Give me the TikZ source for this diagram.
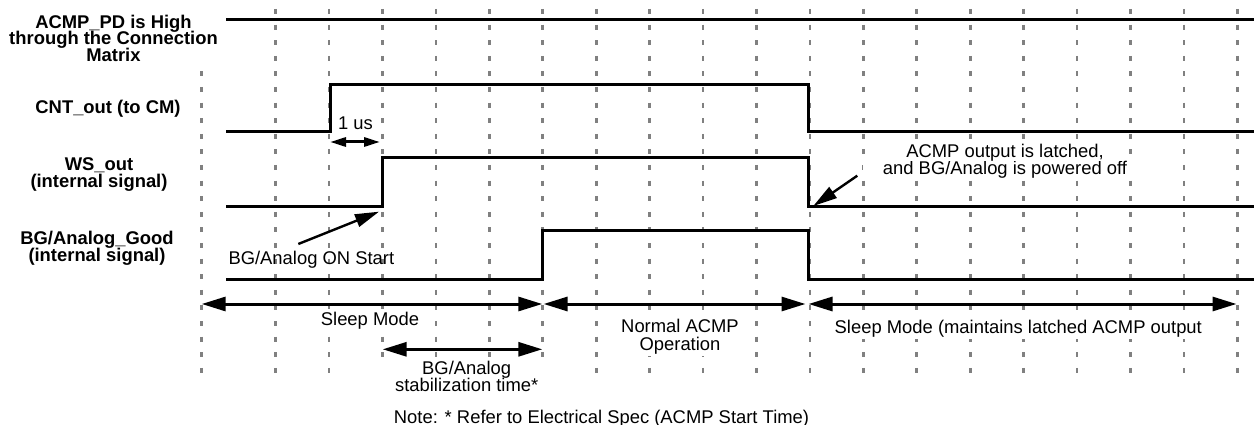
\documentclass[tikz,border=0pt]{standalone}
\usepackage{fontspec}
\setmainfont{Liberation Sans}
\usetikzlibrary{arrows.meta}
\definecolor{gridgray}{RGB}{128,128,128}
\begin{document}
\begin{tikzpicture}[x=1pt,y=-1pt,
  gridline/.style={draw=gridgray, line width=2.7pt, dash pattern=on 5pt off 10.6pt},
  sig/.style={line width=3pt, line join=miter},
  lbl/.style={font=\fontsize{18.4}{20}\selectfont\bfseries, inner sep=0pt, anchor=base},
  txt/.style={font=\fontsize{18.4}{20}\selectfont, inner sep=0pt, anchor=base},
  wtxt/.style={txt, fill=white, inner xsep=5pt, inner ysep=2.5pt},
  ltxt/.style={txt, fill=white, inner xsep=20pt, inner ysep=0.3pt},
  bigarrow/.style={line width=3pt, {Triangle[length=24pt,width=14pt]}-{Triangle[length=24pt,width=14pt]}},
  smallarrow/.style={line width=3pt, {Triangle[length=16pt,width=9pt]}-{Triangle[length=16pt,width=9pt]}},
  pointer/.style={line width=2.4pt, -{Triangle[length=24pt,width=13pt]}}]
\useasboundingbox (0,0) rectangle (1254,425);

% grid of dashed lines
\draw[gridline] (201.7,71.4) -- (201.7,372.8);
\foreach \k in {0,1,6,7,8,9,10,11,12,13,14,15,16,17,18}
  \draw[gridline] ({275.7+53.42*\k},9) -- ++(0,363.8);
\foreach \k in {2,3,4,5}
  \draw[gridline] ({275.7+53.42*\k},9) -- ++(0,348.2);

% signal labels
\node[lbl] (l1a) at (113.5,28.3) {ACMP\_PD is High};
\node[lbl] (l1b) at (113.5,45) {through the Connection};
\node[lbl] (l1c) at (113.5,61.7) {Matrix};
\node[lbl] (l2) at (108,113.3) {CNT\_out (to CM)};
\node[lbl] (l3a) at (99,170.5) {WS\_out};
\node[lbl] (l3b) at (99,188) {(internal signal)};
\node[lbl] (l4a) at (97,244) {BG/Analog\_Good};
\node[lbl] (l4b) at (97,261.5) {(internal signal)};

% signals
\draw[sig] (226,20) -- (1254,20);
\draw[sig] (226,131.7) -- (330,131.7) -- (330,84.3) -- (808,84.3) -- (808,131.7) -- (1254,131.7);
\draw[sig] (226,206.7) -- (382,206.7) -- (382,157.5) -- (808,157.5) -- (808,206.7) -- (1254,206.7);
\draw[sig] (226,279) -- (542.3,279) -- (542.3,230) -- (808,230) -- (808,279) -- (1254,279);

% 1 us
\coordinate (us1) at (330,142);
\coordinate (us2) at (380,142);
\draw[smallarrow] (us1) -- (us2);
\node[txt] (uslbl) at (355.5,130) {1 us};

% BG/Analog ON Start
\node[txt, anchor=base west] (onlbl) at (228.3,265) {BG/Analog ON Start};
\coordinate (on1) at (298.3,244);
\coordinate (on2) at (379,211.7);
\draw[pointer] (on1) -- (on2);

% latched
\node[ltxt] (lat2) at (1005,175) {and BG/Analog is powered off};
\node[ltxt] (lat1) at (1005,157.3) {ACMP output is latched,};
\coordinate (la1) at (857.3,175.7);
\coordinate (la2) at (813.3,206);
\draw[pointer] (la1) -- (la2);

% mode arrows
\coordinate (s1a) at (201.7,304);
\coordinate (s1b) at (542.3,304);
\coordinate (n1a) at (543.6,304);
\coordinate (n1b) at (805.5,304);
\coordinate (s2a) at (808.5,304);
\coordinate (s2b) at (1236.5,304);
\coordinate (sta) at (382.7,349.3);
\coordinate (stb) at (542.3,349.3);
\draw[bigarrow] (s1a) -- (s1b);
\draw[bigarrow] (n1a) -- (n1b);
\draw[bigarrow] (s2a) -- (s2b);
\draw[bigarrow] (sta) -- (stb);

\node[wtxt] (sleep1) at (370,325) {Sleep Mode};
\node[wtxt] (norm2) at (680,350) {Operation};
\node[wtxt] (norm1) at (680,332.7) {Normal ACMP};
\node[wtxt] (sleep2) at (1018.3,333) {Sleep Mode (maintains latched ACMP output};
\node[txt] (stab1) at (466.7,374) {BG/Analog};
\node[txt] (stab2) at (466.7,391) {stabilization time*};
\node[txt] (note) at (601.5,423) {Note: * Refer to Electrical Spec (ACMP Start Time)};
\end{tikzpicture}
\end{document}
